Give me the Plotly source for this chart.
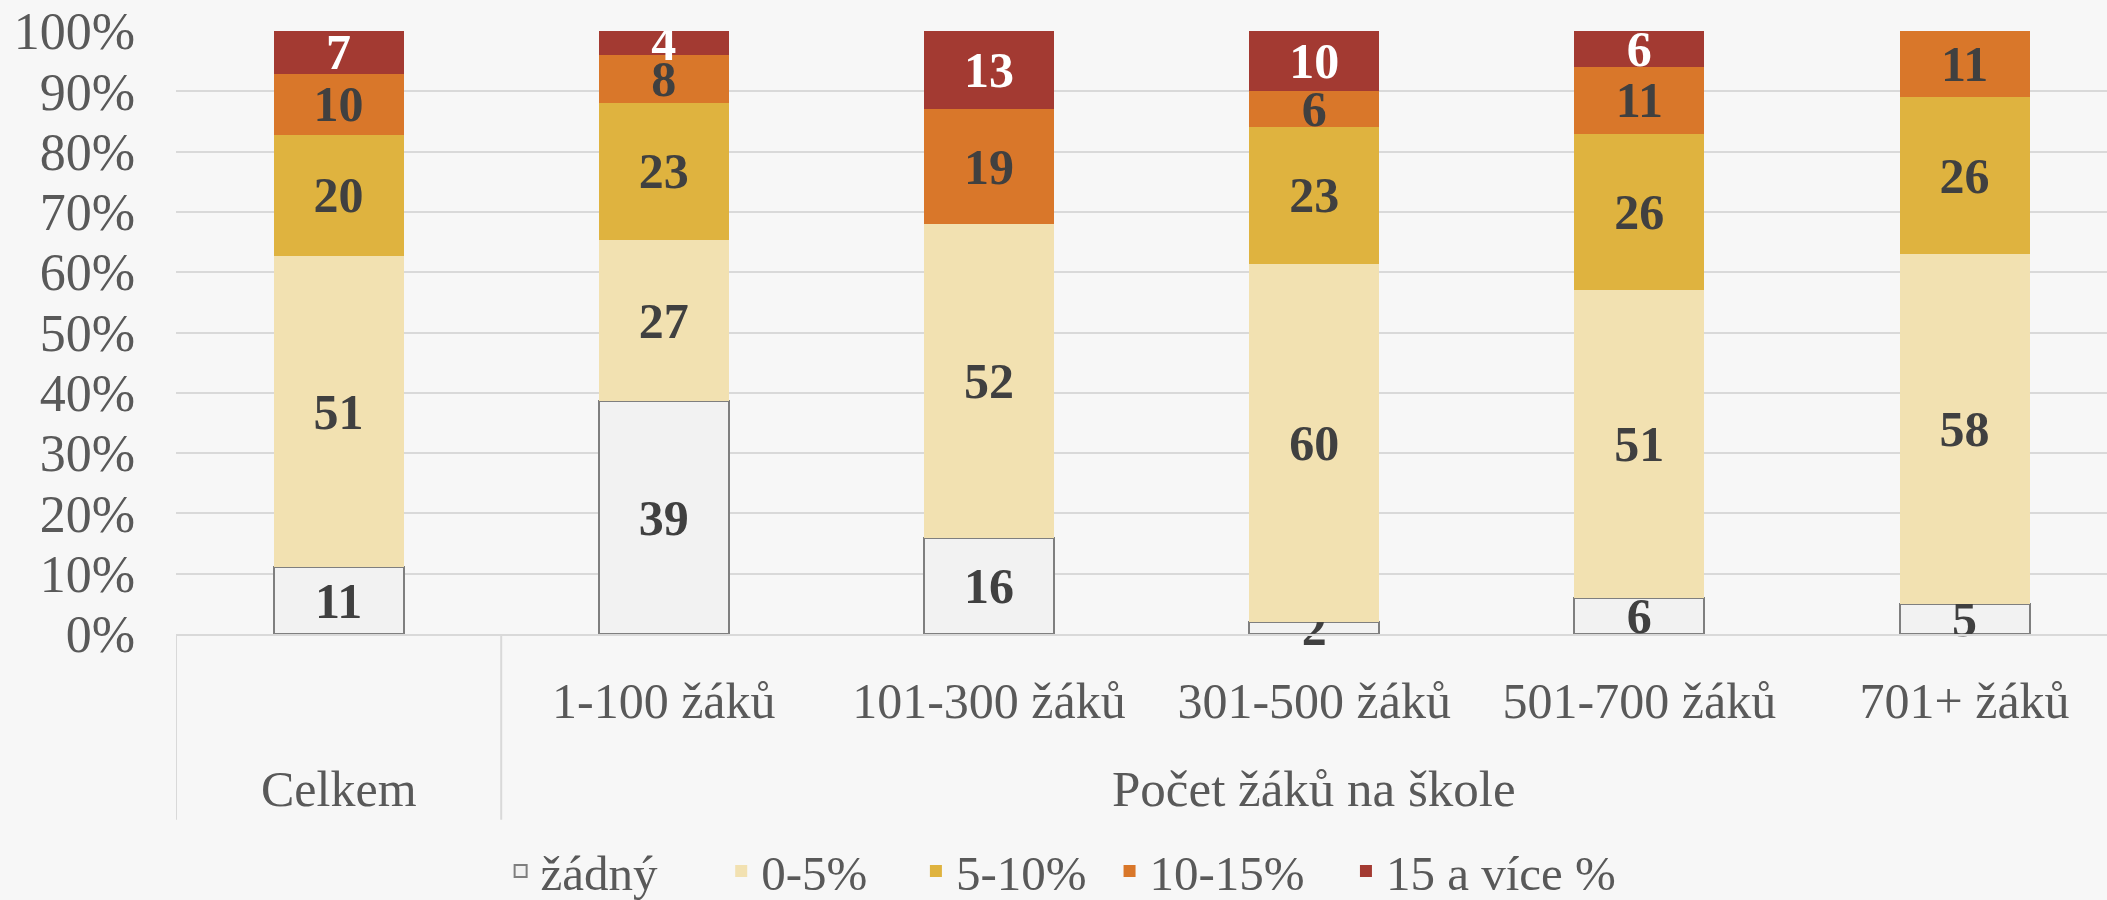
import plotly.graph_objects as go

categories = ["Celkem", "1-100 žáků", "101-300 žáků", "301-500 žáků", "501-700 žáků", "701+ žáků"]
tick_labels = ["", "1-100 žáků", "101-300 žáků", "301-500 žáků", "501-700 žáků", "701+ žáků"]
group_labels = ["Celkem", "Počet žáků na škole"]

series_names = ["žádný", "0-5%", "5-10%", "10-15%", "15 a více %"]
zadny = [11, 39, 16, 2, 6, 5]
p0_5 = [51, 27, 52, 60, 51, 58]
p5_10 = [20, 23, 0, 23, 26, 26]
p10_15 = [10, 8, 19, 6, 11, 11]
p15_plus = [7, 4, 13, 10, 6, 0]
y_ticks = [0, 10, 20, 30, 40, 50, 60, 70, 80, 90, 100]

series_values = [zadny, p0_5, p5_10, p10_15, p15_plus]
colors = ["#F2F2F2", "#F2E1B1", "#DFB33F", "#D9772A", "#A33A32"]
text_colors = ["#404040", "#404040", "#404040", "#404040", "#FFFFFF"]
line_colors = ["#7F7F7F", None, None, None, None]
# left positions (fraction of the figure width) of each legend entry
legend_x = [0.2376, 0.3423, 0.4347, 0.5266, 0.6388]

FONT = "Liberation Serif"
GRID = "#D9D9D9"
LABEL = "#595959"

fig = go.Figure()
legend_layout = {}
for i, (name, vals, col, tcol, lcol) in enumerate(zip(series_names, series_values, colors,
                                                         text_colors, line_colors)):
    lname = "legend" if i == 0 else f"legend{i + 1}"
    fig.add_trace(go.Bar(
        name=name,
        x=categories,
        y=vals,
        marker=dict(color=col, line=dict(color=lcol if lcol else col, width=2 if lcol else 0)),
        text=[str(v) if v else "" for v in vals],
        textposition="inside",
        insidetextanchor="middle",
        constraintext="none",
        textangle=0,
        cliponaxis=(i != 0),
        textfont=dict(family=FONT, size=50, color=tcol, weight="bold"),
        width=0.4,
        hoverinfo="skip",
        legend=lname,
    ))
    legend_layout[lname] = dict(
        orientation="h", xref="container", yref="container",
        x=legend_x[i], xanchor="left", y=0.032, yanchor="middle",
        font=dict(family=FONT, size=49, color=LABEL),
        bgcolor="rgba(0,0,0,0)",
    )

# group labels below the category ticks (Celkem under its own bar, the other under the five size groups)
fig.add_annotation(x=categories[0], y=-0.257, xref="x", yref="paper", text=group_labels[0],
                   showarrow=False, font=dict(family=FONT, size=50, color=LABEL), yanchor="middle")
fig.add_annotation(x=3, y=-0.257, xref="x", yref="paper", text=group_labels[1],
                   showarrow=False, font=dict(family=FONT, size=51, color=LABEL), yanchor="middle")
# group dividers
for xd in (-0.5, 0.5):
    fig.add_shape(type="line", xref="x", yref="paper", x0=xd, x1=xd, y0=0, y1=-0.308,
                  line=dict(color=GRID, width=2), layer="below")

fig.update_layout(
    barmode="stack",
    barnorm="percent",
    width=2107, height=900,
    paper_bgcolor="#F7F7F7",
    plot_bgcolor="#F7F7F7",
    margin=dict(l=176, r=0, t=31, b=266, autoexpand=False),
    font=dict(family=FONT, size=50, color=LABEL),
    showlegend=True,
    xaxis=dict(
        type="category",
        range=[-0.5, 5.438],
        tickvals=categories,
        ticktext=tick_labels,
        showgrid=False,
        showline=True, linecolor=GRID, linewidth=2,
        tickfont=dict(family=FONT, size=50, color=LABEL),
        ticks="outside", ticklen=22, tickcolor="rgba(0,0,0,0)",
        automargin=False,
    ),
    yaxis=dict(
        # tiny headroom so the normalised stack top (float sum slightly above 100) stays in range
        range=[0, 100.001],
        tickvals=y_ticks,
        ticktext=[f"{v}%" for v in y_ticks],
        showgrid=True, gridcolor=GRID, gridwidth=2,
        zeroline=False,
        tickfont=dict(family=FONT, size=52, color=LABEL),
        ticklabelstandoff=40,
        automargin=False,
    ),
    **legend_layout,
)

fig.write_html("out.html", config={"displayModeBar": False},
               post_script="document.body.style.margin='0px';")
